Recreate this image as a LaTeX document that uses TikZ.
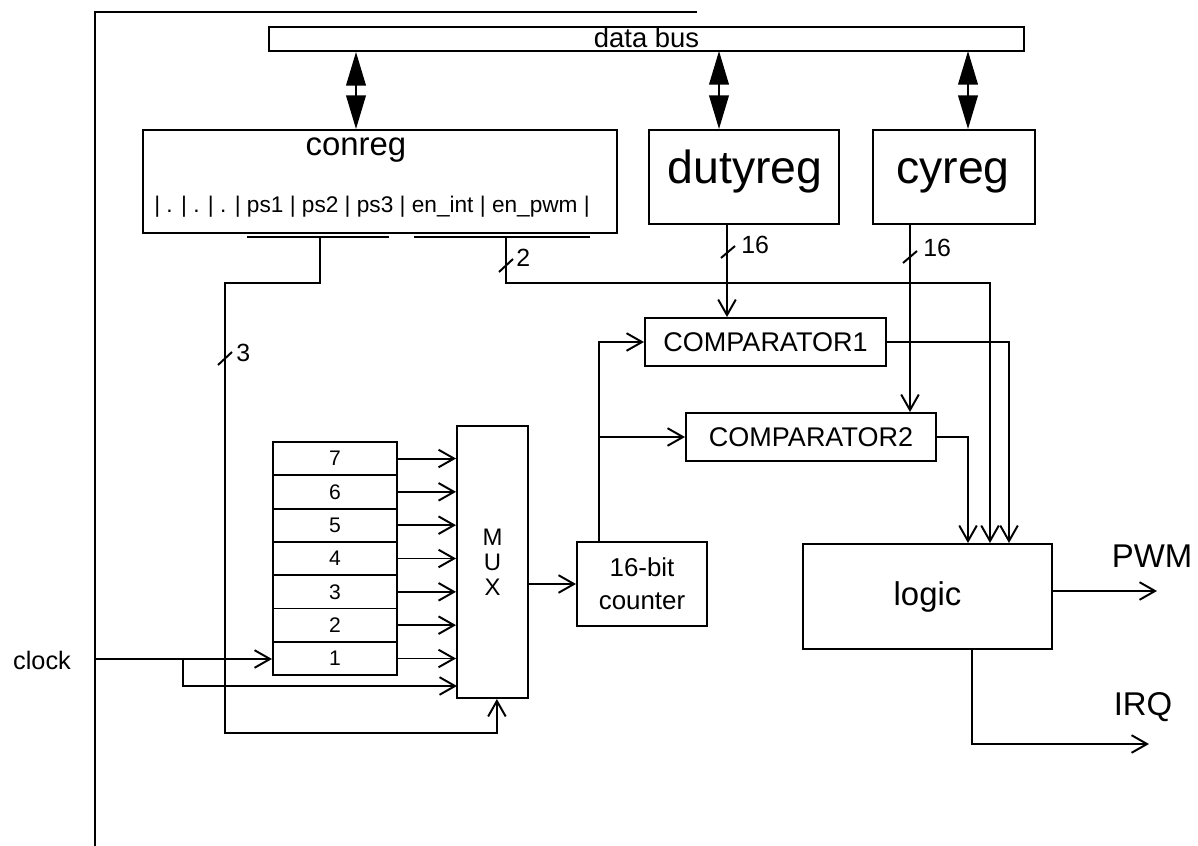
\documentclass[tikz,border=0pt]{standalone}
\usepackage{fontspec}
\setmainfont{Liberation Sans}
\usetikzlibrary{arrows.meta, positioning, calc}

\begin{document}
\begin{tikzpicture}[
    x=0.025cm, y=-0.025cm,
    wire/.style={line width=1.4pt},
    sig/.style={wire, -{Straight Barb[length=11pt, width=12.5pt]}},
    busarrow/.style={wire, {Triangle[length=24pt, width=14pt]}-{Triangle[length=24pt, width=14pt]}},
    block/.style={draw, line width=1.4pt, inner sep=0pt},
    bigtext/.style={font=\fontsize{23.4}{28}\selectfont, inner sep=0pt},
    hugetext/.style={font=\fontsize{33}{38}\selectfont, inner sep=0pt},
    regbox/.style={block, bigtext},
    cmpbox/.style={block, minimum height=1.2cm, font=\fontsize{19.2}{22}\selectfont},
    cell/.style={block, minimum width=3.1cm, minimum height=0.8333cm, font=\fontsize{15}{17}\selectfont},
    fieldtext/.style={font=\fontsize{16.1}{20}\selectfont, inner sep=0pt},
    tag/.style={font=\fontsize{17.7}{20}\selectfont, inner sep=0pt}
]
\useasboundingbox (0,0) rectangle (1198,846);

% === Frame and data bus ===
\coordinate (frameend) at (697,12);
\coordinate (framecorner) at (95,12);
\coordinate (framefoot) at (95,846);
\draw[wire] (frameend) -- (framecorner) -- (framefoot);

\node[block, minimum width=18.875cm, minimum height=0.6cm] (databus) at (646.5,39) {};
\node[font=\fontsize{19.5}{22}\selectfont, inner sep=0pt, anchor=base] (busname) at (646.5,47.5) {data bus};

% === Registers ===
\node[regbox, minimum width=11.85cm, minimum height=2.575cm] (conreg) at (380,181.5) {};
\node[bigtext, anchor=base] (conregname) at (356,156) {conreg};
\node[fieldtext, anchor=base] (conregfields) at (372,213)
    {| . | . | . | ps1 | ps2 | ps3 | en\_int | en\_pwm |};

\node[regbox, minimum width=4.75cm, minimum height=2.35cm] (dutyreg) at (744,177) {};
\node[hugetext, anchor=base] (dutyname) at (745,184) {dutyreg};
\node[regbox, minimum width=4.05cm, minimum height=2.35cm] (cyreg) at (954,177) {};
\node[hugetext, anchor=base] (cyname) at (953,184) {cyreg};

% Bus <-> registers
\coordinate (dutytap) at (719,51);
\coordinate (cytap) at (968,51);
\draw[busarrow] (conregname |- databus.south) -- (conregname |- conreg.north);
\draw[busarrow] (dutytap) -- (dutytap |- dutyreg.north);
\draw[busarrow] (cytap) -- (cytap |- cyreg.north);

% Field bars under conreg
\coordinate (psbar) at (247,237);
\coordinate (enbar) at (414,237);
\coordinate (pstap) at (320,237);
\coordinate (entap) at (506,237);
\draw[wire] (psbar) -- ++(142,0);
\draw[wire] (enbar) -- ++(176,0);

% === Comparators, counter, mux, logic ===
\node[cmpbox, minimum width=6.025cm] (comp1) at (765.5,342) {COMPARATOR1};
\node[cmpbox, minimum width=6.25cm] (comp2) at (811,437) {COMPARATOR2};

\node[regbox, minimum width=6.225cm, minimum height=2.625cm] (logic) at (927.5,596.5) {logic};

\node[block, minimum width=3.25cm, minimum height=2.1cm, align=center,
      font=\fontsize{18.4}{23.4}\selectfont] (counter) at (642,584) {16-bit\\counter};

\node[block, minimum width=1.775cm, minimum height=6.8cm, align=center,
      font=\fontsize{17}{17.7}\selectfont] (mux) at (492.5,562) {M\\U\\X};

% Prescaler stages
\foreach \i in {1,...,7}
    \node[cell] (reg\i) at (335,{658.5-(\i-1)*33.33}) {\i};
\foreach \i in {1,...,7}
    \draw[sig] (reg\i.east) -- (reg\i.east -| mux.west);

% === Clock ===
\node[font=\fontsize{18}{21}\selectfont, inner sep=0pt] (clocklabel) at (42,660) {clock};
\coordinate (clkin) at (95,659);
\coordinate (clkfork) at (183,659);
\coordinate (muxclk) at (457,686);
\draw[sig] (clkin) -- (clkin -| reg1.west);
\draw[sig] (clkfork) |- (muxclk);

% === Wires ===

% ps1..ps3 -> mux select
\draw[sig] (pstap) -- ++(0,46) -| ++(-95,450) -| ([xshift=0.11cm]mux.south);
\coordinate (psslash) at (225,359);
\draw[wire] (psslash) ++(-7,6) -- ++(14,-13);
\node[tag, anchor=west] (pswidth) at (236,353) {3};

% en_int, en_pwm -> logic
\draw[sig] (entap) -- ++(0,46) -| ([xshift=1.5625cm]logic.north);
\coordinate (enslash) at (506,266);
\draw[wire] (enslash) ++(-7,6) -- ++(14,-13);
\node[tag, anchor=west] (enwidth) at (516,258) {2};

% dutyreg -> comparator1
\coordinate (dutyout) at (727,224);
\draw[sig] (dutyout) -- (dutyout |- comp1.north);
\coordinate (dutyslash) at (728,252);
\draw[wire] (dutyslash) ++(-7,6) -- ++(14,-12);
\node[tag, anchor=west] (dutywidth) at (741,245) {16};

% cyreg -> comparator2
\coordinate (cyout) at (910,224);
\draw[sig] (cyout) -- (cyout |- comp2.north);
\coordinate (cyslash) at (910,257);
\draw[wire] (cyslash) ++(-7,6) -- ++(14,-12);
\node[tag, anchor=west] (cywidth) at (923,248) {16};

% mux -> counter -> comparators
\draw[sig] (counter.west -| mux.east) -- (counter.west);
\coordinate (cntout) at ([xshift=-1.075cm]counter.north);
\draw[sig] (cntout) |- (comp1.west);
\draw[sig] (cntout |- comp2.west) -- (comp2.west);

% comparators -> logic
\draw[sig] (comp1.east) -| ([xshift=2.0375cm]logic.north);
\draw[sig] (comp2.east) -| ([xshift=1.0125cm]logic.north);

% Outputs
\coordinate (pwmout) at (1157,591);
\draw[sig] (logic.east |- pwmout) -- (pwmout);
\node[bigtext] (pwmlabel) at (1152,556) {PWM};
\coordinate (irqout) at (1149,744);
\draw[sig] ([xshift=1.1125cm]logic.south) |- (irqout);
\node[bigtext] (irqlabel) at (1143,707) {IRQ};

\end{tikzpicture}
\end{document}
